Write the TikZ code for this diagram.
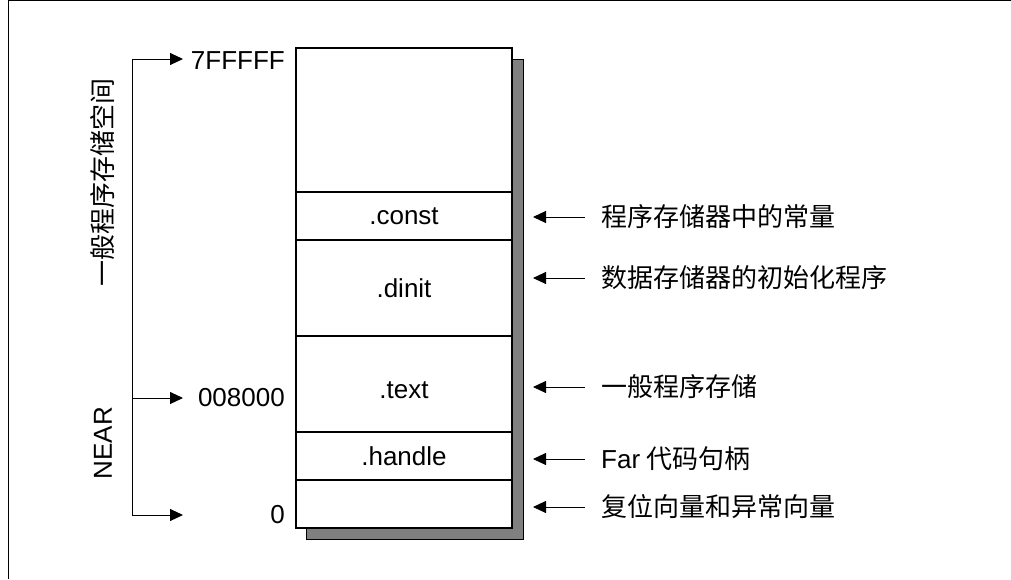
\documentclass[tikz,border=0pt]{standalone}
\usepackage{fontspec}
\setmainfont{Liberation Sans}
\newfontfamily\cjk{Noto Sans CJK SC}
\usetikzlibrary{arrows.meta,positioning}
\definecolor{shadowgray}{RGB}{128,128,128}
\tikzset{
	seg/.style={draw,line width=1.2pt,minimum width=216pt,inner sep=0pt,outer sep=0pt,font=\fontsize{26}{30}\selectfont},
	ptr/.style={line width=1pt},
	addr/.style={anchor=east,inner sep=0pt,font=\fontsize{26}{30}\selectfont},
	note/.style={anchor=west,inner sep=0pt,font=\fontsize{26}{30}\selectfont\cjk},
	side/.style={rotate=90,inner sep=0pt,font=\fontsize{26}{30}\selectfont}
}
\begin{document}
\begin{tikzpicture}[line join=miter,>={Triangle[length=13pt,width=12pt]},x=1pt,y=-1pt]
		\useasboundingbox (0,0) rectangle (1011,579);
		%%%%%%%%%%%%%%% F R A M E %%%%%%%%%%%%%%%%
		\draw [line width=1pt] (8,579) -- (8,0.5) -- (1011,0.5);
		%%%%%%%%%%%%%%% M E M O R Y %%%%%%%%%%%%%%%%
		%shadow
		\draw [line width=1pt,fill=shadowgray] (306,59) rectangle (523,539);
		%segments
		\node [seg,fill=white,minimum height=144pt,anchor=north west] (free) at (296,48) {};
		\node [seg,fill=white,minimum height=48pt,below=0pt of free] (const) {.const};
		\node [seg,fill=white,minimum height=96pt,below=0pt of const] (dinit) {.dinit};
		\node [seg,fill=white,minimum height=96pt,text height=29pt,text depth=0pt,below=0pt of dinit] (text) {.text};
		\node [seg,fill=white,minimum height=48pt,below=0pt of text] (handle) {.handle};
		\node [seg,fill=white,minimum height=48pt,below=0pt of handle] (reset) {};
		%%%%%%%%%%%%%%% A D D R E S S E S %%%%%%%%%%%%%%%%
		\node [addr] (a7) at (285,61) {7FFFFF};
		\node [addr] (a8) at (285,398) {008000};
		\node [addr] (a0) at (285,515) {0};
		\coordinate (br7) at (132,59);
		\coordinate (br8) at (132,398);
		\coordinate (br0) at (132,515);
		\coordinate (tip) at (183,0);
		\draw [ptr] (br7) -- (br0);
		\foreach \c in {br7,br8,br0}
			\draw [ptr,->] (\c) -- (\c -| tip);
		\node [side,font=\fontsize{26}{30}\selectfont\cjk] (general) at (103,182) {一般程序存储空间};
		\node [side] (near) at (103,443) {NEAR};
		%%%%%%%%%%%%%%% N O T E S %%%%%%%%%%%%%%%%
		\node [note] (n1) at (601,217) {程序存储器中的常量};
		\node [note] (n2) at (601,278) {数据存储器的初始化程序};
		\node [note] (n3) at (601,387) {一般程序存储};
		\node [note] (n4) at (601,459) {{\normalfont Far} 代码句柄};
		\node [note] (n5) at (601,507) {复位向量和异常向量};
		\foreach \n in {n1,n2,n3,n4,n5}
			\draw [ptr,->] ([xshift=-16pt]\n.west) -- ++(-52,0);
	\end{tikzpicture}
\end{document}
